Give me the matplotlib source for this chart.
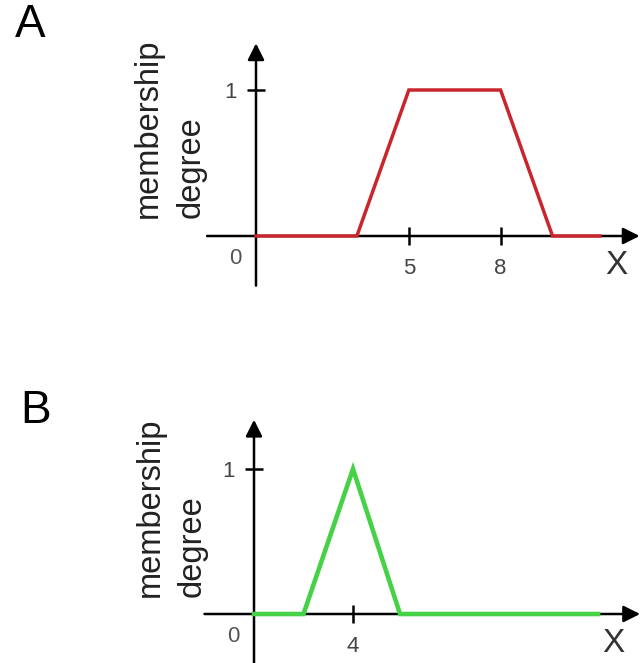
import matplotlib
matplotlib.use("Agg")
import matplotlib.pyplot as plt

plt.rcParams['font.family'] = ['Liberation Sans', 'DejaVu Sans']

# panel A: trapezoidal membership function
a_x = [0, 3.3, 5, 8, 9.7, 11.25]
a_y = [0, 0, 1, 1, 0, 0]
a_xticks = [5, 8]
# panel B: triangular membership function
b_x = [0, 2.0, 4, 5.9, 13.9]
b_y = [0, 0, 1, 0, 0]
b_xticks = [4]
yticks = [1]
ylabel = 'membership\ndegree'

W, H = 641, 663
fig = plt.figure(figsize=(W / 100, H / 100), dpi=100)


def place_axes(ox, oy, sx, sy, xlim, ylim):
    """axes with data origin at pixel (ox, oy), sx / sy pixels per unit"""
    left = ox + xlim[0] * sx
    right = ox + xlim[1] * sx
    top = oy - ylim[1] * sy
    bottom = oy - ylim[0] * sy
    ax = fig.add_axes([left / W, 1 - bottom / H, (right - left) / W, (bottom - top) / H])
    ax.set_xlim(*xlim)
    ax.set_ylim(*ylim)
    ax.patch.set_alpha(0)
    return ax


def draw_panel(ax, xs, ys, xticks, color, lw, x_off):
    xlim, ylim = ax.get_xlim(), ax.get_ylim()
    # axes drawn as arrows through the origin
    for sp in ax.spines.values():
        sp.set_visible(False)
    ax.spines['left'].set_position(('data', 0))
    ax.spines['bottom'].set_position(('data', 0))
    arrow = dict(arrowstyle='-|>', color='black', lw=1.8, mutation_scale=25,
                 shrinkA=0, shrinkB=0)
    ax.annotate('', xy=(xlim[1], 0), xytext=(xlim[0], 0), arrowprops=arrow,
                annotation_clip=False, zorder=2)
    ax.annotate('', xy=(0, ylim[1]), xytext=(0, ylim[0]), arrowprops=arrow,
                annotation_clip=False, zorder=2)
    ax.plot(xs, ys, color=color, lw=lw, zorder=3, solid_joinstyle='miter',
            clip_on=False)
    ax.set_xticks(xticks)
    ax.set_yticks(yticks)
    ax.tick_params(direction='inout', length=13, width=1.8, labelsize=16,
                   labelcolor='#444444', color='black')
    ax.tick_params(axis='x', pad=9.5)
    ax.tick_params(axis='y', pad=7)
    ax.annotate('0', xy=(0, 0), xytext=(-15, -16), textcoords='offset points',
                ha='center', va='center', fontsize=16, color='#555555')
    ax.annotate('X', xy=(xlim[1], 0), xytext=(x_off, -21), textcoords='offset points',
                ha='center', va='center', fontsize=24, color='#333333')


ax_a = place_axes(256, 236, 30.57, 146, (-1.6, 12.55), (-0.34, 1.32))
draw_panel(ax_a, a_x, a_y, a_xticks, '#c8262c', 2.5, -16.5)

ax_b = place_axes(254, 614, 24.75, 145, (-2.0, 15.6), (-0.35, 1.34))
draw_panel(ax_b, b_x, b_y, b_xticks, '#46d246', 3.3, -19.5)

# panel letters and rotated y labels
fig.text(30.5 / W, 1 - 25 / H, 'A', fontsize=33, ha='center', va='center')
fig.text(36 / W, 1 - 411 / H, 'B', fontsize=33, ha='center', va='center')
for base_y, xs in [(218, (157, 200)), (597, (159, 201))]:
    for line, x in zip(ylabel.split('\n'), xs):
        fig.text(x / W, 1 - base_y / H, line, rotation=90, rotation_mode='anchor',
                 ha='left', va='baseline', fontsize=23.5, color='#222222')

fig.savefig('out.png', dpi=100)
